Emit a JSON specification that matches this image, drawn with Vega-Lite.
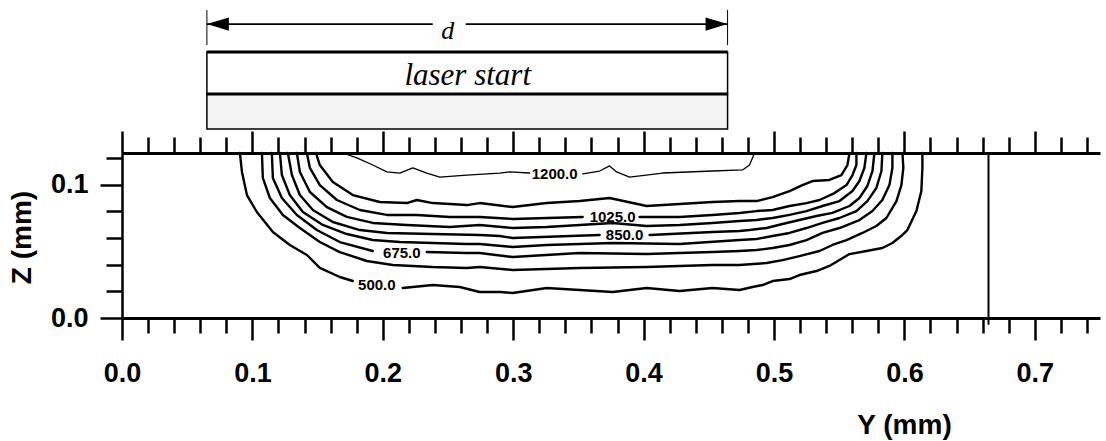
{
  "$schema": "https://vega.github.io/schema/vega-lite/v6.json",
  "width": 978,
  "height": 165,
  "autosize": {"type": "none"},
  "padding": {"left": 122, "top": 153, "right": 6, "bottom": 123},
  "background": "white",
  "config": {"view": {"stroke": null}, "axis": {"grid": false}},
  "resolve": {"axis": {"x": "independent", "y": "independent"}},
  "datasets": {
    "contours": [
      {"s":"500a","i":1,"Y":0.0904,"Z":0.1236},{"s":"500a","i":2,"Y":0.0920,"Z":0.1094},{"s":"500a","i":3,"Y":0.0958,"Z":0.0921},{"s":"500a","i":4,"Y":0.1034,"Z":0.0794},{"s":"500a","i":5,"Y":0.1157,"Z":0.0644},{"s":"500a","i":6,"Y":0.1287,"Z":0.0547},{"s":"500a","i":7,"Y":0.1418,"Z":0.0472},{"s":"500a","i":8,"Y":0.1517,"Z":0.0375},{"s":"500a","i":9,"Y":0.1670,"Z":0.0307},{"s":"500a","i":10,"Y":0.1770,"Z":0.0277},
      {"s":"500b","i":11,"Y":0.2153,"Z":0.0225},{"s":"500b","i":12,"Y":0.2383,"Z":0.0247},{"s":"500b","i":13,"Y":0.2590,"Z":0.0232},{"s":"500b","i":14,"Y":0.2743,"Z":0.0195},{"s":"500b","i":15,"Y":0.2897,"Z":0.0195},{"s":"500b","i":16,"Y":0.2996,"Z":0.0187},{"s":"500b","i":17,"Y":0.3257,"Z":0.0225},{"s":"500b","i":18,"Y":0.3510,"Z":0.0210},{"s":"500b","i":19,"Y":0.3762,"Z":0.0195},{"s":"500b","i":20,"Y":0.4023,"Z":0.0225},{"s":"500b","i":21,"Y":0.4276,"Z":0.0202},{"s":"500b","i":22,"Y":0.4529,"Z":0.0225},{"s":"500b","i":23,"Y":0.4736,"Z":0.0210},{"s":"500b","i":24,"Y":0.4835,"Z":0.0232},{"s":"500b","i":25,"Y":0.4912,"Z":0.0247},{"s":"500b","i":26,"Y":0.4989,"Z":0.0277},{"s":"500b","i":27,"Y":0.5119,"Z":0.0292},{"s":"500b","i":28,"Y":0.5195,"Z":0.0322},{"s":"500b","i":29,"Y":0.5326,"Z":0.0352},{"s":"500b","i":30,"Y":0.5425,"Z":0.0390},{"s":"500b","i":31,"Y":0.5502,"Z":0.0434},{"s":"500b","i":32,"Y":0.5579,"Z":0.0479},{"s":"500b","i":33,"Y":0.5709,"Z":0.0502},{"s":"500b","i":34,"Y":0.5831,"Z":0.0524},{"s":"500b","i":35,"Y":0.5908,"Z":0.0562},{"s":"500b","i":36,"Y":0.5985,"Z":0.0622},{"s":"500b","i":37,"Y":0.6023,"Z":0.0659},{"s":"500b","i":38,"Y":0.6092,"Z":0.0801},{"s":"500b","i":39,"Y":0.6130,"Z":0.0951},{"s":"500b","i":40,"Y":0.6138,"Z":0.1124},{"s":"500b","i":41,"Y":0.6138,"Z":0.1236},

      {"s":"587","i":1,"Y":0.1073,"Z":0.1236},{"s":"587","i":2,"Y":0.1080,"Z":0.1049},{"s":"587","i":3,"Y":0.1134,"Z":0.0899},{"s":"587","i":4,"Y":0.1234,"Z":0.0772},{"s":"587","i":5,"Y":0.1364,"Z":0.0674},{"s":"587","i":6,"Y":0.1517,"Z":0.0569},{"s":"587","i":7,"Y":0.1670,"Z":0.0494},{"s":"587","i":8,"Y":0.1877,"Z":0.0427},{"s":"587","i":9,"Y":0.2077,"Z":0.0397},{"s":"587","i":10,"Y":0.2383,"Z":0.0382},{"s":"587","i":11,"Y":0.2644,"Z":0.0375},{"s":"587","i":12,"Y":0.2743,"Z":0.0382},{"s":"587","i":13,"Y":0.2996,"Z":0.0360},{"s":"587","i":14,"Y":0.3510,"Z":0.0375},{"s":"587","i":15,"Y":0.4023,"Z":0.0382},{"s":"587","i":16,"Y":0.4529,"Z":0.0397},{"s":"587","i":17,"Y":0.4736,"Z":0.0397},{"s":"587","i":18,"Y":0.4943,"Z":0.0412},{"s":"587","i":19,"Y":0.5065,"Z":0.0434},{"s":"587","i":20,"Y":0.5195,"Z":0.0464},{"s":"587","i":21,"Y":0.5349,"Z":0.0502},{"s":"587","i":22,"Y":0.5448,"Z":0.0547},{"s":"587","i":23,"Y":0.5556,"Z":0.0584},{"s":"587","i":24,"Y":0.5678,"Z":0.0637},{"s":"587","i":25,"Y":0.5785,"Z":0.0689},{"s":"587","i":26,"Y":0.5862,"Z":0.0749},{"s":"587","i":27,"Y":0.5939,"Z":0.0876},{"s":"587","i":28,"Y":0.5977,"Z":0.0996},{"s":"587","i":29,"Y":0.5992,"Z":0.1124},{"s":"587","i":30,"Y":0.5985,"Z":0.1236},

      {"s":"675a","i":1,"Y":0.1149,"Z":0.1236},{"s":"675a","i":2,"Y":0.1157,"Z":0.1049},{"s":"675a","i":3,"Y":0.1226,"Z":0.0899},{"s":"675a","i":4,"Y":0.1341,"Z":0.0772},{"s":"675a","i":5,"Y":0.1494,"Z":0.0659},{"s":"675a","i":6,"Y":0.1670,"Z":0.0569},{"s":"675a","i":7,"Y":0.1923,"Z":0.0502},
      {"s":"675b","i":8,"Y":0.2337,"Z":0.0494},{"s":"675b","i":9,"Y":0.2644,"Z":0.0487},{"s":"675b","i":10,"Y":0.2743,"Z":0.0487},{"s":"675b","i":11,"Y":0.2996,"Z":0.0457},{"s":"675b","i":12,"Y":0.3510,"Z":0.0487},{"s":"675b","i":13,"Y":0.4023,"Z":0.0479},{"s":"675b","i":14,"Y":0.4529,"Z":0.0494},{"s":"675b","i":15,"Y":0.4736,"Z":0.0502},{"s":"675b","i":16,"Y":0.4866,"Z":0.0509},{"s":"675b","i":17,"Y":0.4989,"Z":0.0524},{"s":"675b","i":18,"Y":0.5119,"Z":0.0547},{"s":"675b","i":19,"Y":0.5249,"Z":0.0584},{"s":"675b","i":20,"Y":0.5372,"Z":0.0637},{"s":"675b","i":21,"Y":0.5502,"Z":0.0674},{"s":"675b","i":22,"Y":0.5655,"Z":0.0734},{"s":"675b","i":23,"Y":0.5755,"Z":0.0801},{"s":"675b","i":24,"Y":0.5831,"Z":0.0884},{"s":"675b","i":25,"Y":0.5885,"Z":0.0996},{"s":"675b","i":26,"Y":0.5908,"Z":0.1124},{"s":"675b","i":27,"Y":0.5908,"Z":0.1236},

      {"s":"762","i":1,"Y":0.1211,"Z":0.1236},{"s":"762","i":2,"Y":0.1226,"Z":0.1071},{"s":"762","i":3,"Y":0.1287,"Z":0.0921},{"s":"762","i":4,"Y":0.1387,"Z":0.0794},{"s":"762","i":5,"Y":0.1540,"Z":0.0697},{"s":"762","i":6,"Y":0.1724,"Z":0.0629},{"s":"762","i":7,"Y":0.1923,"Z":0.0584},{"s":"762","i":8,"Y":0.2130,"Z":0.0569},{"s":"762","i":9,"Y":0.2383,"Z":0.0562},{"s":"762","i":10,"Y":0.2644,"Z":0.0554},{"s":"762","i":11,"Y":0.2743,"Z":0.0554},{"s":"762","i":12,"Y":0.2996,"Z":0.0532},{"s":"762","i":13,"Y":0.3257,"Z":0.0547},{"s":"762","i":14,"Y":0.3762,"Z":0.0562},{"s":"762","i":15,"Y":0.4276,"Z":0.0554},{"s":"762","i":16,"Y":0.4736,"Z":0.0584},{"s":"762","i":17,"Y":0.4866,"Z":0.0592},{"s":"762","i":18,"Y":0.4989,"Z":0.0614},{"s":"762","i":19,"Y":0.5119,"Z":0.0637},{"s":"762","i":20,"Y":0.5249,"Z":0.0674},{"s":"762","i":21,"Y":0.5372,"Z":0.0712},{"s":"762","i":22,"Y":0.5502,"Z":0.0749},{"s":"762","i":23,"Y":0.5632,"Z":0.0801},{"s":"762","i":24,"Y":0.5716,"Z":0.0876},{"s":"762","i":25,"Y":0.5785,"Z":0.0974},{"s":"762","i":26,"Y":0.5824,"Z":0.1101},{"s":"762","i":27,"Y":0.5831,"Z":0.1236},

      {"s":"850a","i":1,"Y":0.1272,"Z":0.1236},{"s":"850a","i":2,"Y":0.1303,"Z":0.1071},{"s":"850a","i":3,"Y":0.1364,"Z":0.0921},{"s":"850a","i":4,"Y":0.1464,"Z":0.0809},{"s":"850a","i":5,"Y":0.1617,"Z":0.0719},{"s":"850a","i":6,"Y":0.1824,"Z":0.0659},{"s":"850a","i":7,"Y":0.2031,"Z":0.0637},{"s":"850a","i":8,"Y":0.2383,"Z":0.0629},{"s":"850a","i":9,"Y":0.2743,"Z":0.0622},{"s":"850a","i":10,"Y":0.2897,"Z":0.0614},{"s":"850a","i":11,"Y":0.2996,"Z":0.0599},{"s":"850a","i":12,"Y":0.3663,"Z":0.0622},
      {"s":"850b","i":13,"Y":0.4046,"Z":0.0622},{"s":"850b","i":14,"Y":0.4529,"Z":0.0644},{"s":"850b","i":15,"Y":0.4736,"Z":0.0652},{"s":"850b","i":16,"Y":0.4812,"Z":0.0659},{"s":"850b","i":17,"Y":0.4943,"Z":0.0674},{"s":"850b","i":18,"Y":0.5065,"Z":0.0704},{"s":"850b","i":19,"Y":0.5195,"Z":0.0734},{"s":"850b","i":20,"Y":0.5326,"Z":0.0764},{"s":"850b","i":21,"Y":0.5448,"Z":0.0787},{"s":"850b","i":22,"Y":0.5579,"Z":0.0839},{"s":"850b","i":23,"Y":0.5655,"Z":0.0899},{"s":"850b","i":24,"Y":0.5716,"Z":0.0989},{"s":"850b","i":25,"Y":0.5755,"Z":0.1101},{"s":"850b","i":26,"Y":0.5770,"Z":0.1236},

      {"s":"937","i":1,"Y":0.1341,"Z":0.1236},{"s":"937","i":2,"Y":0.1364,"Z":0.1094},{"s":"937","i":3,"Y":0.1441,"Z":0.0944},{"s":"937","i":4,"Y":0.1571,"Z":0.0831},{"s":"937","i":5,"Y":0.1724,"Z":0.0757},{"s":"937","i":6,"Y":0.1923,"Z":0.0712},{"s":"937","i":7,"Y":0.2184,"Z":0.0697},{"s":"937","i":8,"Y":0.2513,"Z":0.0682},{"s":"937","i":9,"Y":0.2743,"Z":0.0697},{"s":"937","i":10,"Y":0.2996,"Z":0.0674},{"s":"937","i":11,"Y":0.3257,"Z":0.0682},{"s":"937","i":12,"Y":0.3510,"Z":0.0697},{"s":"937","i":13,"Y":0.3762,"Z":0.0712},{"s":"937","i":14,"Y":0.4023,"Z":0.0689},{"s":"937","i":15,"Y":0.4276,"Z":0.0697},{"s":"937","i":16,"Y":0.4529,"Z":0.0712},{"s":"937","i":17,"Y":0.4736,"Z":0.0727},{"s":"937","i":18,"Y":0.4866,"Z":0.0734},{"s":"937","i":19,"Y":0.4989,"Z":0.0749},{"s":"937","i":20,"Y":0.5119,"Z":0.0772},{"s":"937","i":21,"Y":0.5249,"Z":0.0801},{"s":"937","i":22,"Y":0.5372,"Z":0.0839},{"s":"937","i":23,"Y":0.5502,"Z":0.0876},{"s":"937","i":24,"Y":0.5602,"Z":0.0951},{"s":"937","i":25,"Y":0.5655,"Z":0.1026},{"s":"937","i":26,"Y":0.5693,"Z":0.1124},{"s":"937","i":27,"Y":0.5709,"Z":0.1236},

      {"s":"1025a","i":1,"Y":0.1418,"Z":0.1236},{"s":"1025a","i":2,"Y":0.1441,"Z":0.1124},{"s":"1025a","i":3,"Y":0.1517,"Z":0.0996},{"s":"1025a","i":4,"Y":0.1648,"Z":0.0884},{"s":"1025a","i":5,"Y":0.1824,"Z":0.0809},{"s":"1025a","i":6,"Y":0.2031,"Z":0.0772},{"s":"1025a","i":7,"Y":0.2261,"Z":0.0772},{"s":"1025a","i":8,"Y":0.2513,"Z":0.0757},{"s":"1025a","i":9,"Y":0.2743,"Z":0.0757},{"s":"1025a","i":10,"Y":0.2996,"Z":0.0742},{"s":"1025a","i":11,"Y":0.3533,"Z":0.0757},
      {"s":"1025b","i":12,"Y":0.3969,"Z":0.0757},{"s":"1025b","i":13,"Y":0.4276,"Z":0.0757},{"s":"1025b","i":14,"Y":0.4529,"Z":0.0772},{"s":"1025b","i":15,"Y":0.4736,"Z":0.0787},{"s":"1025b","i":16,"Y":0.4866,"Z":0.0801},{"s":"1025b","i":17,"Y":0.4989,"Z":0.0809},{"s":"1025b","i":18,"Y":0.5119,"Z":0.0839},{"s":"1025b","i":19,"Y":0.5249,"Z":0.0861},{"s":"1025b","i":20,"Y":0.5349,"Z":0.0884},{"s":"1025b","i":21,"Y":0.5464,"Z":0.0936},{"s":"1025b","i":22,"Y":0.5556,"Z":0.0996},{"s":"1025b","i":23,"Y":0.5602,"Z":0.1071},{"s":"1025b","i":24,"Y":0.5632,"Z":0.1146},{"s":"1025b","i":25,"Y":0.5632,"Z":0.1236},

      {"s":"1112","i":1,"Y":0.1487,"Z":0.1236},{"s":"1112","i":2,"Y":0.1517,"Z":0.1146},{"s":"1112","i":3,"Y":0.1617,"Z":0.1019},{"s":"1112","i":4,"Y":0.1770,"Z":0.0921},{"s":"1112","i":5,"Y":0.1977,"Z":0.0869},{"s":"1112","i":6,"Y":0.2184,"Z":0.0861},{"s":"1112","i":7,"Y":0.2261,"Z":0.0884},{"s":"1112","i":8,"Y":0.2383,"Z":0.0861},{"s":"1112","i":9,"Y":0.2644,"Z":0.0846},{"s":"1112","i":10,"Y":0.2743,"Z":0.0861},{"s":"1112","i":11,"Y":0.2996,"Z":0.0831},{"s":"1112","i":12,"Y":0.3257,"Z":0.0861},{"s":"1112","i":13,"Y":0.3510,"Z":0.0876},{"s":"1112","i":14,"Y":0.3739,"Z":0.0899},{"s":"1112","i":15,"Y":0.4023,"Z":0.0839},{"s":"1112","i":16,"Y":0.4276,"Z":0.0854},{"s":"1112","i":17,"Y":0.4529,"Z":0.0869},{"s":"1112","i":18,"Y":0.4736,"Z":0.0876},{"s":"1112","i":19,"Y":0.4866,"Z":0.0876},{"s":"1112","i":20,"Y":0.4989,"Z":0.0906},{"s":"1112","i":21,"Y":0.5119,"Z":0.0951},{"s":"1112","i":22,"Y":0.5218,"Z":0.0996},{"s":"1112","i":23,"Y":0.5295,"Z":0.1026},{"s":"1112","i":24,"Y":0.5425,"Z":0.1034},{"s":"1112","i":25,"Y":0.5517,"Z":0.1071},{"s":"1112","i":26,"Y":0.5563,"Z":0.1146},{"s":"1112","i":27,"Y":0.5579,"Z":0.1236},

      {"s":"1200a","i":1,"Y":0.1693,"Z":0.1236},{"s":"1200a","i":2,"Y":0.1801,"Z":0.1199},{"s":"1200a","i":3,"Y":0.1923,"Z":0.1146},{"s":"1200a","i":4,"Y":0.2031,"Z":0.1094},{"s":"1200a","i":5,"Y":0.2130,"Z":0.1086},{"s":"1200a","i":6,"Y":0.2230,"Z":0.1124},{"s":"1200a","i":7,"Y":0.2337,"Z":0.1086},{"s":"1200a","i":8,"Y":0.2437,"Z":0.1056},{"s":"1200a","i":9,"Y":0.2644,"Z":0.1071},{"s":"1200a","i":10,"Y":0.2897,"Z":0.1086},{"s":"1200a","i":11,"Y":0.2973,"Z":0.1094},{"s":"1200a","i":12,"Y":0.3126,"Z":0.1086},
      {"s":"1200b","i":13,"Y":0.3533,"Z":0.1079},{"s":"1200b","i":14,"Y":0.3663,"Z":0.1101},{"s":"1200b","i":15,"Y":0.3739,"Z":0.1139},{"s":"1200b","i":16,"Y":0.3793,"Z":0.1094},{"s":"1200b","i":17,"Y":0.3893,"Z":0.1056},{"s":"1200b","i":18,"Y":0.4146,"Z":0.1086},{"s":"1200b","i":19,"Y":0.4529,"Z":0.1101},{"s":"1200b","i":20,"Y":0.4759,"Z":0.1109},{"s":"1200b","i":21,"Y":0.4812,"Z":0.1146},{"s":"1200b","i":22,"Y":0.4835,"Z":0.1199},{"s":"1200b","i":23,"Y":0.4851,"Z":0.1236}
    ],
    "labels": [
      {"label":"1200.0","Y":0.3318,"Z":0.1079},
      {"label":"1025.0","Y":0.3762,"Z":0.0757},
      {"label":"850.0","Y":0.3854,"Z":0.0622},
      {"label":"675.0","Y":0.2146,"Z":0.0487},
      {"label":"500.0","Y":0.1954,"Z":0.0247}
    ],
    "boundary": [{"Y":0.6645,"Z1":-0.005,"Z2":0.1236}],
    "box": [
      {"part":"upper","Y1":0.0651,"Y2":0.4644,"Z1":0.1678,"Z2":0.1993},
      {"part":"lower","Y1":0.0651,"Y2":0.4644,"Z1":0.1416,"Z2":0.1678}
    ],
    "boxlines": [
      {"Y1":0.0651,"Y2":0.4644,"Z":0.1993},
      {"Y1":0.0651,"Y2":0.4644,"Z":0.1678}
    ],
    "arrow": [
      {"Y1":0.0651,"Y2":0.2383,"Z":0.2202},
      {"Y1":0.2636,"Y2":0.4644,"Z":0.2202}
    ],
    "ext": [
      {"Y":0.0651,"Z1":0.2045,"Z2":0.2307},
      {"Y":0.4644,"Z1":0.2045,"Z2":0.2307}
    ],
    "heads": [
      {"dir":"left","Y":0.0651,"Z":0.2202},
      {"dir":"right","Y":0.4644,"Z":0.2202}
    ],
    "notes": [
      {"text":"d","Y":0.2498,"Z":0.2150,"size":26},
      {"text":"laser start","Y":0.2651,"Z":0.1813,"size":31}
    ]
  },
  "layer": [
    {
      "data": {"name": "contours"},
      "mark": {"type": "line", "interpolate": "linear", "strokeJoin": "round", "strokeCap": "round"},
      "encoding": {
        "x": {
          "field": "Y", "type": "quantitative",
          "scale": {"domain": [0, 0.75], "nice": false, "zero": false},
          "axis": {
            "orient": "bottom",
            "values": [0,0.02,0.04,0.06,0.08,0.1,0.12,0.14,0.16,0.18,0.2,0.22,0.24,0.26,0.28,0.3,0.32,0.34,0.36,0.38,0.4,0.42,0.44,0.46,0.48,0.5,0.52,0.54,0.56,0.58,0.6,0.62,0.64,0.66,0.68,0.7,0.72,0.74],
            "labelExpr": "round(datum.value*50)%5===0 ? format(datum.value,'.1f') : ''",
            "tickSize": {"condition": {"test": "round(datum.value*50)%5===0", "value": 22}, "value": 15},
            "tickWidth": 2.5, "tickColor": "black",
            "domainWidth": 3, "domainColor": "black",
            "labelPadding": 20, "labelFont": "Liberation Sans", "labelFontSize": 27, "labelFontWeight": "bold", "labelColor": "black",
            "labelOverlap": false, "labelFlush": false, "labelBound": false,
            "title": "Y (mm)", "titleFont": "Liberation Sans", "titleFontSize": 28, "titleFontWeight": "bold", "titleColor": "black",
            "titleX": 782, "titleY": 107, "titleAlign": "center", "titleBaseline": "middle"
          }
        },
        "y": {
          "field": "Z", "type": "quantitative",
          "scale": {"domain": [0, 0.1236], "nice": false, "zero": false},
          "axis": {
            "orient": "left",
            "values": [0,0.02,0.04,0.06,0.08,0.1,0.12],
            "labelExpr": "round(datum.value*50)%5===0 ? format(datum.value,'.1f') : ''",
            "tickSize": {"condition": {"test": "round(datum.value*50)%5===0", "value": 22}, "value": 16},
            "tickWidth": 2.5, "tickColor": "black",
            "domainWidth": 2.5, "domainColor": "black",
            "labelPadding": 12, "labelFont": "Liberation Sans", "labelFontSize": 27, "labelFontWeight": "bold", "labelColor": "black",
            "labelOverlap": false, "labelFlush": false, "labelBound": false, "labelBaseline": "middle",
            "title": "Z (mm)", "titleFont": "Liberation Sans", "titleFontSize": 28, "titleFontWeight": "bold", "titleColor": "black",
            "titleX": -100, "titleY": 84, "titleAngle": 270, "titleAlign": "center", "titleBaseline": "middle"
          }
        },
        "detail": {"field": "s"},
        "order": {"field": "i", "type": "quantitative"},
        "color": {"value": "black"},
        "strokeWidth": {"condition": {"test": "datum.s==='1200a'||datum.s==='1200b'", "value": 1.3}, "value": 2.4}
      }
    },
    {
      "data": {"name": "labels"},
      "mark": {"type": "text", "font": "Liberation Sans", "fontSize": 15, "fontWeight": "bold", "align": "center", "baseline": "middle", "color": "black"},
      "encoding": {
        "x": {"field": "Y", "type": "quantitative", "axis": null},
        "y": {"field": "Z", "type": "quantitative", "axis": null},
        "text": {"field": "label"}
      }
    },
    {
      "data": {"name": "boundary"},
      "mark": {"type": "rule", "color": "black", "strokeWidth": 2},
      "encoding": {
        "x": {
          "field": "Y", "type": "quantitative",
          "axis": {
            "orient": "top",
            "values": [0,0.02,0.04,0.06,0.08,0.1,0.12,0.14,0.16,0.18,0.2,0.22,0.24,0.26,0.28,0.3,0.32,0.34,0.36,0.38,0.4,0.42,0.44,0.46,0.48,0.5,0.52,0.54,0.56,0.58,0.6,0.62,0.64,0.66,0.68,0.7,0.72,0.74],
            "labels": false,
            "tickSize": {"condition": {"test": "round(datum.value*50)%5===0", "value": 22}, "value": 16},
            "tickWidth": 2.5, "tickColor": "black",
            "domainWidth": 3, "domainColor": "black",
            "title": null
          }
        },
        "y": {"field": "Z1", "type": "quantitative", "axis": null},
        "y2": {"field": "Z2"}
      }
    },
    {
      "data": {"name": "box"},
      "mark": {"type": "rect", "stroke": "black", "strokeWidth": 1.5},
      "encoding": {
        "x": {"field": "Y1", "type": "quantitative", "axis": null},
        "x2": {"field": "Y2"},
        "y": {"field": "Z1", "type": "quantitative", "axis": null},
        "y2": {"field": "Z2"},
        "fill": {"condition": {"test": "datum.part==='lower'", "value": "#f3f3f3"}, "value": "white"}
      }
    },
    {
      "data": {"name": "boxlines"},
      "mark": {"type": "rule", "color": "black", "strokeWidth": 3},
      "encoding": {
        "x": {"field": "Y1", "type": "quantitative", "axis": null},
        "x2": {"field": "Y2"},
        "y": {"field": "Z", "type": "quantitative", "axis": null}
      }
    },
    {
      "data": {"name": "arrow"},
      "mark": {"type": "rule", "color": "black", "strokeWidth": 1.8},
      "encoding": {
        "x": {"field": "Y1", "type": "quantitative", "axis": null},
        "x2": {"field": "Y2"},
        "y": {"field": "Z", "type": "quantitative", "axis": null}
      }
    },
    {
      "data": {"name": "ext"},
      "mark": {"type": "rule", "color": "black", "strokeWidth": 1},
      "encoding": {
        "x": {"field": "Y", "type": "quantitative", "axis": null},
        "y": {"field": "Z1", "type": "quantitative", "axis": null},
        "y2": {"field": "Z2"}
      }
    },
    {
      "data": {"name": "heads"},
      "mark": {"type": "point", "filled": true, "color": "black", "size": 484, "opacity": 1, "strokeWidth": 0},
      "encoding": {
        "x": {"field": "Y", "type": "quantitative", "axis": null},
        "y": {"field": "Z", "type": "quantitative", "axis": null},
        "shape": {
          "field": "dir", "type": "nominal", "legend": null,
          "scale": {"domain": ["left", "right"], "range": ["M0,0L2,-0.6L2,0.6Z", "M0,0L-2,-0.6L-2,0.6Z"]}
        }
      }
    },
    {
      "data": {"name": "notes"},
      "mark": {"type": "text", "font": "Liberation Serif", "fontStyle": "italic", "align": "center", "baseline": "middle", "color": "black"},
      "encoding": {
        "x": {"field": "Y", "type": "quantitative", "axis": null},
        "y": {"field": "Z", "type": "quantitative", "axis": null},
        "text": {"field": "text"},
        "size": {"field": "size", "type": "quantitative", "scale": null, "legend": null}
      }
    }
  ]
}
